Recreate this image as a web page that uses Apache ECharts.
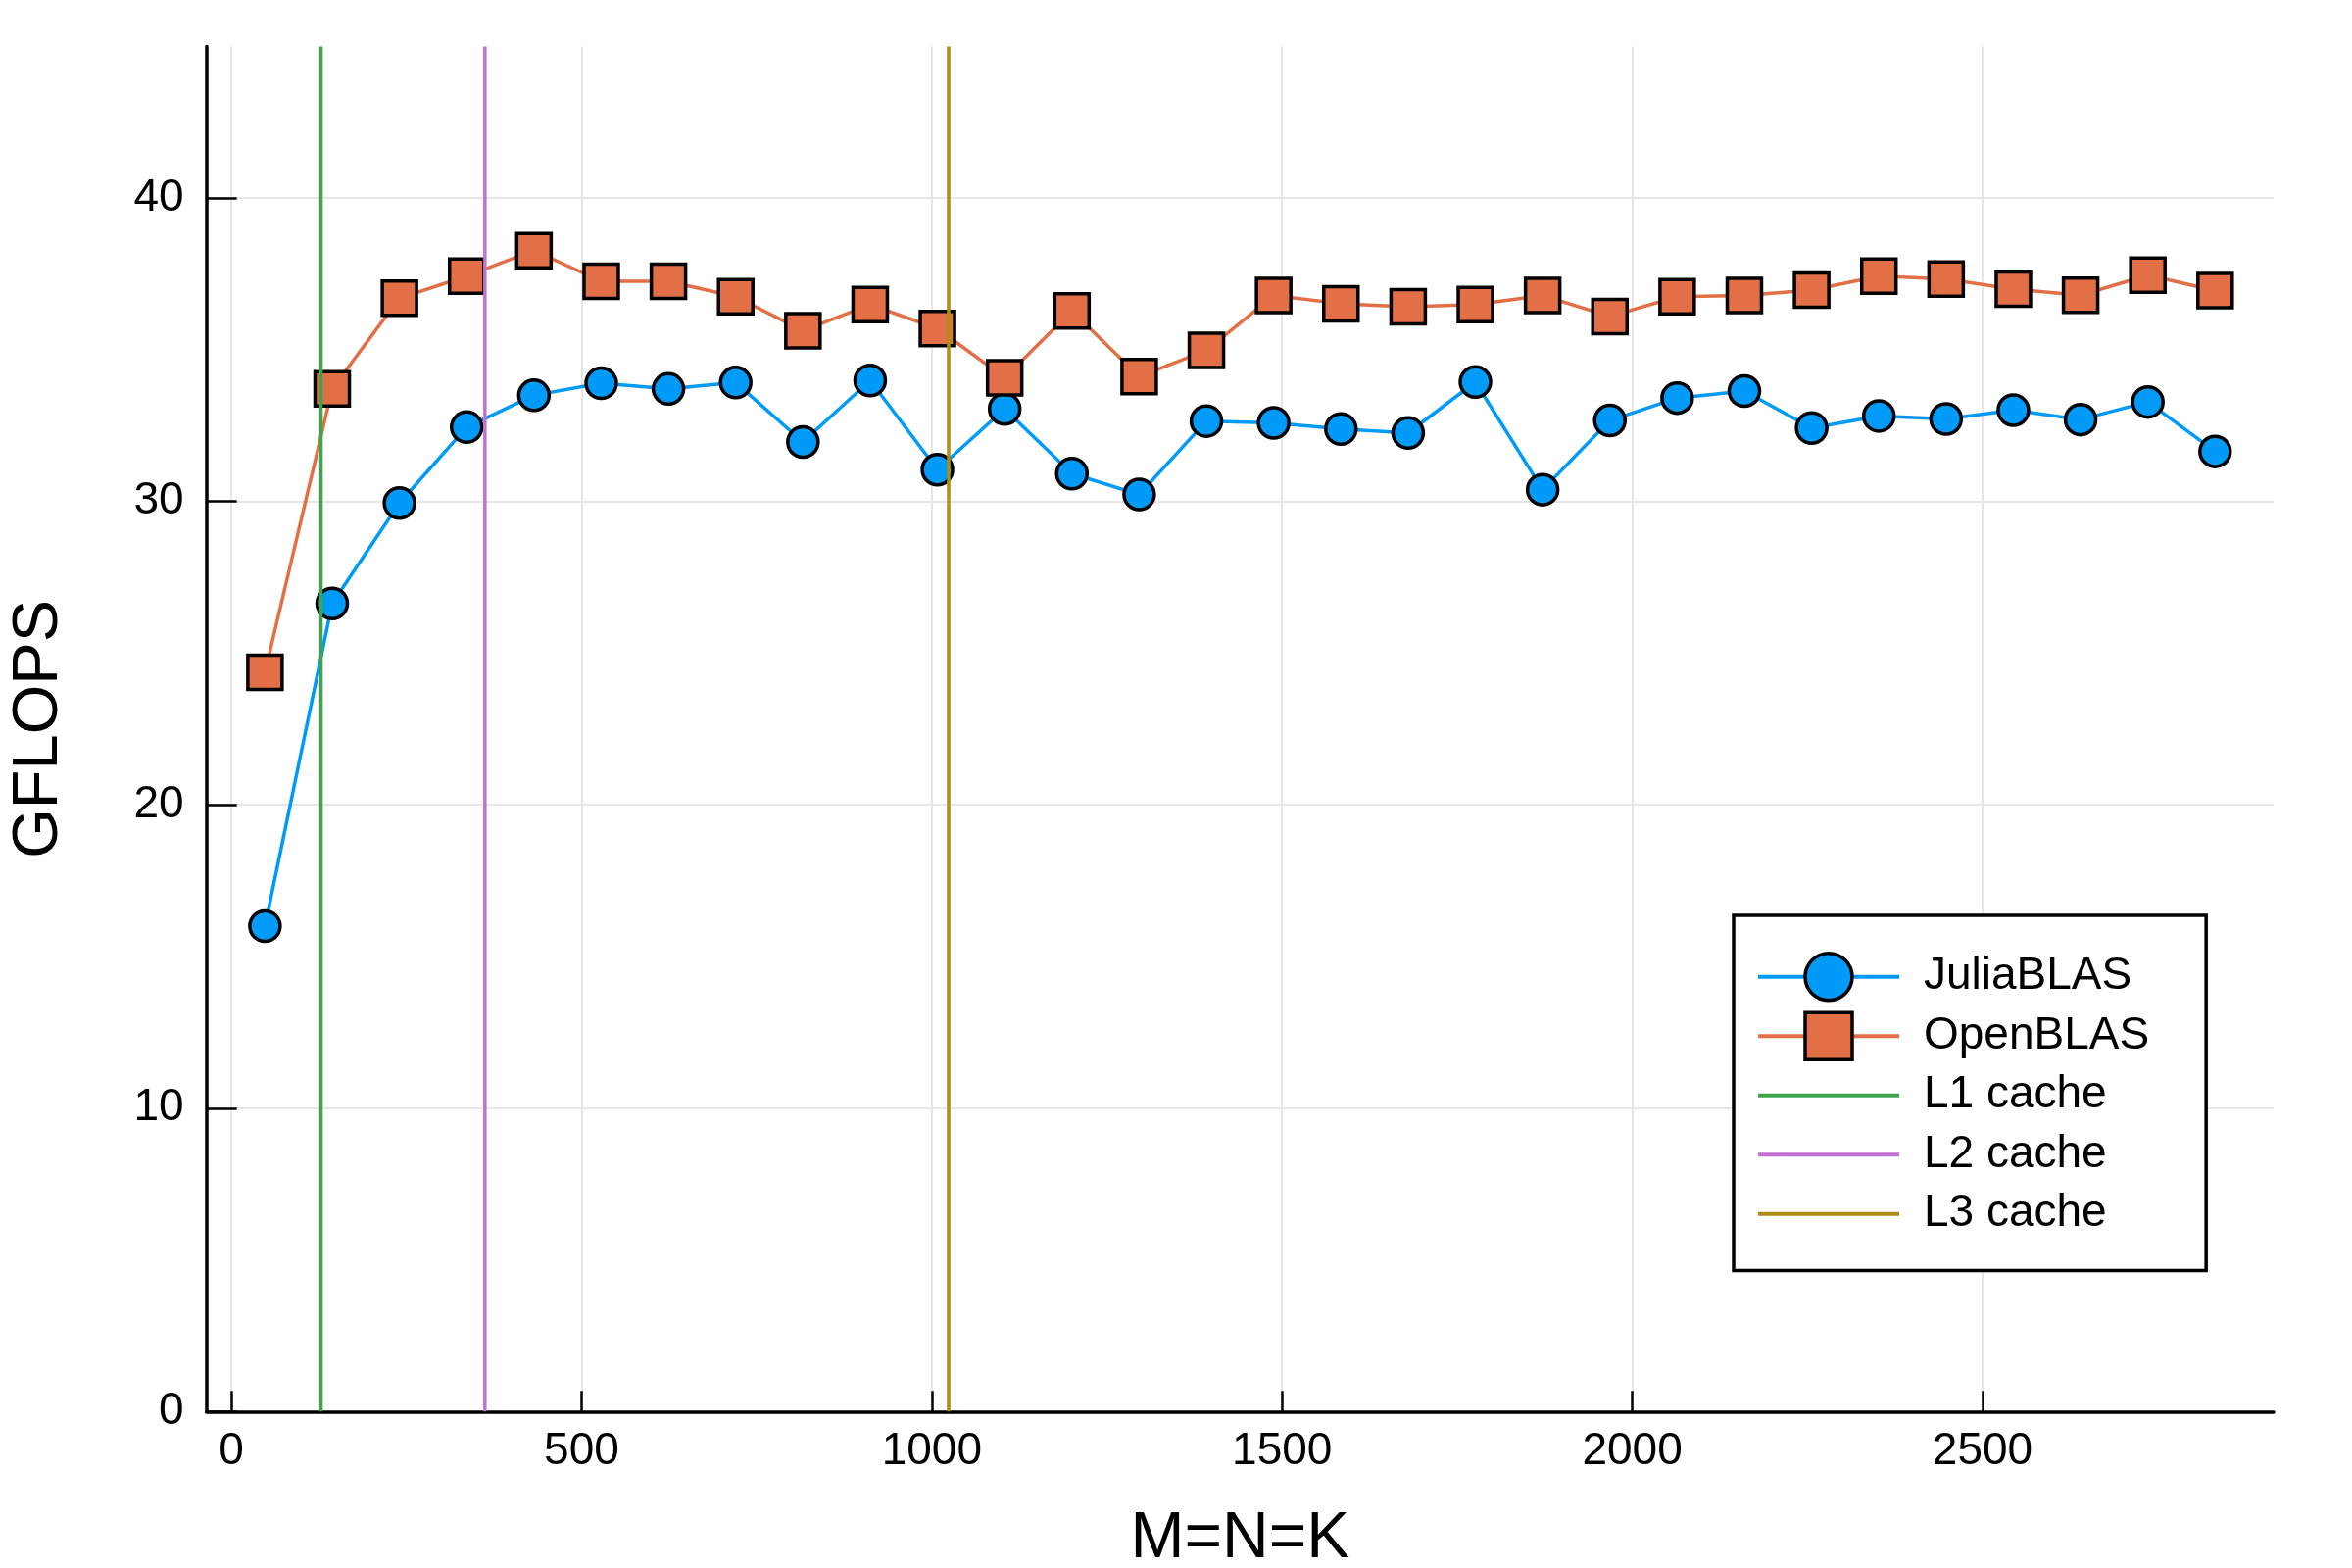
<!DOCTYPE html>
<html>
<head>
<meta charset="utf-8">
<script src="https://cdn.jsdelivr.net/npm/echarts@6/dist/echarts.min.js"></script>
<style>
html,body{margin:0;padding:0;background:#fff;}
#chart{width:2400px;height:1600px;}
</style>
</head>
<body>
<div id="chart"></div>
<script>
// ---- data ----
const sizes = [48,144,240,336,432,528,624,720,816,912,1008,1104,1200,1296,1392,1488,1584,1680,1776,1872,1968,2064,2160,2256,2352,2448,2544,2640,2736,2832];
const juliaBLAS = [16.0,26.64,29.95,32.45,33.5,33.9,33.71,33.92,31.96,33.99,31.05,33.05,30.92,30.23,32.65,32.59,32.39,32.26,33.94,30.39,32.67,33.41,33.64,32.42,32.82,32.72,33.01,32.70,33.28,31.65];
const openBLAS = [24.37,33.71,36.70,37.43,38.27,37.26,37.26,36.75,35.63,36.49,35.70,34.08,36.28,34.12,34.98,36.79,36.52,36.42,36.49,36.79,36.10,36.75,36.79,36.97,37.43,37.33,37.00,36.80,37.46,36.95];
const cacheNames = ["L1 cache","L2 cache","L3 cache"];
const cacheSizes = [128, 362, 1024];
const xTicks = [0,500,1000,1500,2000,2500];
const yTicks = [0,10,20,30,40];
const xRange = [-35.5, 2915.5];
const yRange = [0, 45];

const FONT = "'Liberation Sans', Arial, Helvetica, sans-serif";
const cacheColors = ["#3ea44e", "#c271d2", "#ac8d18"];

const series = [
  {
    name: "JuliaBLAS", type: "line", z: 2,
    data: sizes.map((x, i) => [x, juliaBLAS[i]]),
    symbol: "circle", symbolSize: 31, showAllSymbol: true,
    lineStyle: { color: "#009af9", width: 3.5 },
    itemStyle: { color: "#009af9", borderColor: "#000", borderWidth: 3.5 },
    emphasis: { disabled: true }
  },
  {
    name: "OpenBLAS", type: "line", z: 3,
    data: sizes.map((x, i) => [x, openBLAS[i]]),
    symbol: "rect", symbolSize: 35, showAllSymbol: true,
    lineStyle: { color: "#e26f46", width: 3.5 },
    itemStyle: { color: "#e26f46", borderColor: "#000", borderWidth: 3.5 },
    emphasis: { disabled: true }
  }
];
cacheNames.forEach((n, k) => {
  series.push({
    name: n, type: "line", z: 4,
    data: [[cacheSizes[k], yRange[0]], [cacheSizes[k], yRange[1]]],
    symbol: "none",
    lineStyle: { color: cacheColors[k], width: 3.5 },
    itemStyle: { color: cacheColors[k], opacity: 0 },
    emphasis: { disabled: true }
  });
});

const chart = echarts.init(document.getElementById("chart"), null, { renderer: "canvas" });
chart.setOption({
  animation: false,
  backgroundColor: "#fff",
  textStyle: { fontFamily: FONT },
  grid: { left: 210.7, right: 80, top: 47.4, bottom: 159.7, containLabel: false, outerBoundsMode: "none" },
  xAxis: {
    type: "value", min: xRange[0], max: xRange[1],
    name: "M=N=K", nameLocation: "middle", nameGap: 97,
    nameTextStyle: { fontSize: 66, color: "#000", fontFamily: FONT },
    axisLine: { show: true, onZero: false, lineStyle: { color: "#000", width: 3.5 } },
    axisTick: { show: true, inside: true, length: 21, customValues: xTicks, lineStyle: { color: "#000", width: 2.5 } },
    axisLabel: { show: true, customValues: xTicks, margin: 18, fontSize: 46, color: "#000", fontFamily: FONT,
                 formatter: v => String(v) },
    splitLine: { show: true, lineStyle: { color: "#e6e6e6", width: 2 } }
  },
  yAxis: {
    type: "value", min: yRange[0], max: yRange[1],
    name: "GFLOPS", nameLocation: "middle", nameGap: 138, nameRotate: 90,
    nameTextStyle: { fontSize: 65, color: "#000", fontFamily: FONT },
    axisLine: { show: true, onZero: false, lineStyle: { color: "#000", width: 3.5 } },
    axisTick: { show: true, inside: true, length: 31, customValues: yTicks, lineStyle: { color: "#000", width: 2.5 } },
    axisLabel: { show: true, customValues: yTicks, margin: 23, fontSize: 46, color: "#000", fontFamily: FONT,
                 formatter: v => String(v) },
    splitLine: { show: true, lineStyle: { color: "#e6e6e6", width: 2 } }
  },
  legend: {
    orient: "vertical",
    left: 1769, top: 934,
    padding: [37, 58, 32, 23],
    itemWidth: 144, itemHeight: 60, itemGap: 9,
    backgroundColor: "#fff", borderColor: "#000", borderWidth: 3.5,
    selectedMode: false,
    lineStyle: { width: 4 },
    itemStyle: { borderWidth: 3.5, borderColor: "#000" },
    textStyle: { fontSize: 46, color: "#000", fontFamily: FONT, padding: [0, 0, 0, 20] },
    data: ["JuliaBLAS", "OpenBLAS"].concat(cacheNames)
  },
  series: series
});
</script>
</body>
</html>
